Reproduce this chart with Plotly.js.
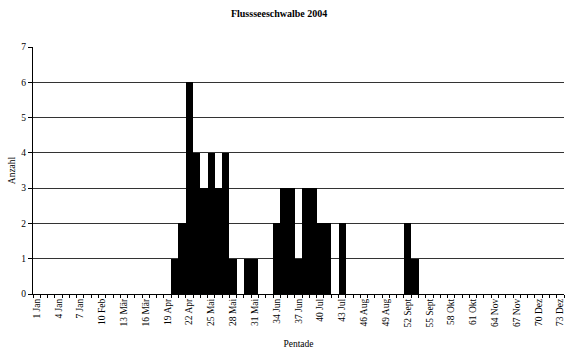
<!DOCTYPE html>
<html><head><meta charset="utf-8">
<script src="https://cdn.plot.ly/plotly-3.0.1.min.js"></script>
<style>body{margin:0;background:#fff}#c{width:565px;height:349px}</style>
</head><body><div id="c"></div>
<script>
const pentade = Array.from({length:73},(_,i)=>i+1);
const counts = [0,0,0,0,0,0,0,0,0,0,0,0,0,0,0,0,0,0,0,
  1,2,6,4,3,4,3,4,1,0,1,1,0,0,2,3,3,1,3,3,2,2,0,2,
  0,0,0,0,0,0,0,0,2,1,
  0,0,0,0,0,0,0,0,0,0,0,0,0,0,0,0,0,0,0,0];
const tickVals = [1,4,7,10,13,16,19,22,25,28,31,34,37,40,43,46,49,52,55,58,61,64,67,70,73];
const tickText = ["1 Jan","4 Jan","7 Jan","10 Feb","13 Mär","16 Mär","19 Apr","22 Apr","25 Mai","28 Mai","31 Mai","34 Jun","37 Jun","40 Jul","43 Jul","46 Aug","49 Aug","52 Sept","55 Sept","58 Okt","61 Okt","64 Nov","67 Nov","70 Dez","73 Dez"];

const fam = "Liberation Serif, Times New Roman, serif";
Plotly.newPlot("c",[{
  type:"bar", x:pentade, y:counts,
  marker:{color:"#000", line:{width:0}}, hoverinfo:"x+y"
}],{
  width:565, height:349,
  margin:{l:33, r:1, t:47, b:55},
  paper_bgcolor:"#fff", plot_bgcolor:"#fff",
  bargap:0, showlegend:false,
  font:{family:fam, size:9, color:"#000"},
  title:{text:"<b>Flussseeschwalbe 2004</b>", font:{family:fam, size:10, color:"#000"}, x:0.494, xanchor:"center", y:0.962, yanchor:"middle"},
  xaxis:{
    range:[0.5,73.5], tickmode:"array", tickvals:tickVals, ticktext:tickText,
    tickangle:-90, ticks:"", showgrid:false, zeroline:false, ticklabeloverflow:"allow",
    showline:true, linecolor:"#000", linewidth:1,
    minor:{tick0:0.5, dtick:1, ticks:"outside", ticklen:3, tickcolor:"#000", showgrid:false},
    tickfont:{family:fam, size:9.5, color:"#000"},
    title:{text:"Pentade", font:{family:fam, size:9.5, color:"#000"}, standoff:29}
  },
  yaxis:{
    range:[0,7], dtick:1, ticks:"outside", ticklen:4, tickcolor:"#000",
    showgrid:true, gridcolor:"#333", gridwidth:1, zeroline:false,
    showline:true, linecolor:"#000", linewidth:1,
    tickfont:{family:fam, size:9.5, color:"#000"},
    title:{text:"Anzahl", font:{family:fam, size:9.5, color:"#000"}, standoff:4}
  }
},{displayModeBar:false, staticPlot:true});
</script></body></html>
